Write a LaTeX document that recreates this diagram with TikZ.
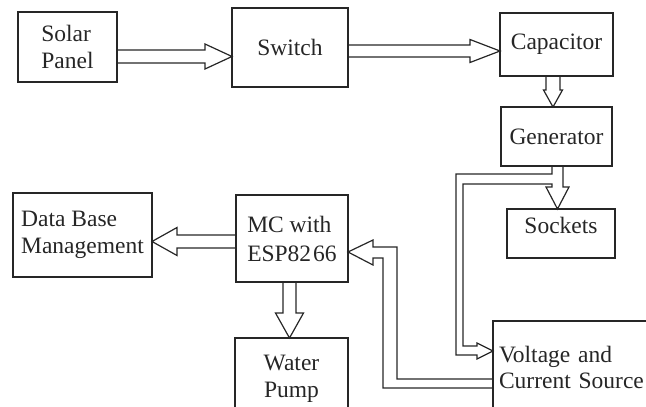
\documentclass[tikz,border=0pt]{standalone}
\usepackage{fontspec}
\setmainfont{Liberation Serif}
\usetikzlibrary{calc}

\definecolor{ink}{HTML}{262626}

\tikzset{
  block/.style={draw=ink, line width=1.4pt, inner sep=0pt, outer sep=0pt,
    text=ink, align=center, font=\fontsize{23.5}{27.5}\selectfont},
  flow/.style={draw=ink, line width=1.2pt, line join=miter},
}

% open-ended block arrow: start point, tip, shaft half width, head half width, head length
\newcommand\hollowarrow[5]{%
  \path ($(#2)!#5!(#1)$) coordinate (hb);
  \draw[flow] ($(#1)!#3!90:(#2)$) -- ($(hb)!#3!90:(#2)$) -- ($(hb)!#4!90:(#2)$)
    -- (#2) -- ($(hb)!#4!-90:(#2)$) -- ($(hb)!#3!-90:(#2)$) -- ($(#1)!#3!-90:(#2)$);
}

\begin{document}
\begin{tikzpicture}[x=1pt,y=-1pt]
\useasboundingbox (0,0) rectangle (646,407);
\clip (0,0) rectangle (646,407);

% blocks
\node[block, minimum width=99pt, minimum height=70pt, align=left] (sp) at (67.5,47) {Solar\\Panel};
\node[block, minimum width=116pt, minimum height=79pt] (sw) at (290,47.5) {Switch};
\node[block, minimum width=113pt, minimum height=63pt] (cap) at (556.5,44.5) {Capacitor};
\node[block, minimum width=111pt, minimum height=59pt] (gen) at (556.5,136.5) {Generator};
\node[block, minimum width=108pt, minimum height=49pt] (sock) at (561,233.5) {\raisebox{8pt}[\height][\depth]{Sockets}};
\node[block, minimum width=112pt, minimum height=87pt, align=left,
      font=\fontsize{23.5}{29}\selectfont] (mc) at (292,238.5) {MC with\\ESP82\kern2pt 66};
\node[block, minimum width=139pt, minimum height=84pt, align=left] (db) at (82.5,235) {Data Base\\Management};
\node[block, minimum width=113pt, minimum height=82pt] (wp) at (291.5,379) {Water\\Pump};
\node[block, anchor=north west, minimum width=210pt, minimum height=92pt,
      text width=198pt, inner xsep=6pt, align=left,
      font=\fontsize{23.5}{26}\selectfont] (vcs) at (493,321) {Voltage and\\Current Source};

% straight block arrows
\coordinate (a1) at ($(sp.east)+(0,9.5)$);
\coordinate (b1) at (sw.west |- a1);
\hollowarrow{a1}{b1}{6.5pt}{12.5pt}{27pt}

\coordinate (a2) at ($(sw.east)+(0,3.5)$);
\coordinate (b2) at (cap.west |- a2);
\hollowarrow{a2}{b2}{6pt}{11.5pt}{30pt}

\coordinate (a3) at ($(cap.south)+(-3.5,0)$);
\coordinate (b3) at (a3 |- gen.north);
\hollowarrow{a3}{b3}{7pt}{9.5pt}{17pt}

\coordinate (a4) at ($(mc.west)+(0,3)$);
\coordinate (b4) at (db.east |- a4);
\hollowarrow{a4}{b4}{6.5pt}{14pt}{25pt}

\coordinate (a5) at ($(mc.south)+(-2.5,0)$);
\coordinate (b5) at (a5 |- wp.north);
\hollowarrow{a5}{b5}{6.5pt}{14pt}{25pt}

% generator output branching to the sockets and to the source block
\coordinate (g1) at ($(gen.south)+(-4.5,0)$);
\coordinate (g2) at ($(gen.south)+(6.5,0)$);
\coordinate (gm) at ($(gen.south)+(1,0)$);
\coordinate (st) at (gm |- sock.north);
\coordinate (vt) at ($(vcs.west)+(0,-16)$);
\draw[flow] (g1) -- ++(0,8) -| ($(vt)+(-37,4)$) -- ($(vt)+(-16,4)$) -- ($(vt)+(-16,8)$)
  -- (vt) -- ($(vt)+(-16,-8)$) -- ($(vt)+(-16,-5)$) -| ($(g1)+(-89,18)$)
  -- ($(g1)+(0,18)$) -- ($(g1)+(0,21)$) -- ($(st)+(-11.5,-22)$) -- (st)
  -- ($(st)+(11.5,-22)$) -- ($(g2)+(0,21)$) -- (g2);

% feedback from the source block to the controller
\coordinate (mt) at ($(mc.east)+(0,13.5)$);
\draw[flow] ($(vcs.west)+(0,21)$) -| ($(mt)+(35,6)$) -- ($(mt)+(25,6)$) -- ($(mt)+(25,13)$)
  -- (mt) -- ($(mt)+(25,-12)$) -- ($(mt)+(25,-5)$) -- ($(mt)+(49,-5)$)
  |- ($(vcs.west)+(0,12)$);
\end{tikzpicture}
\end{document}
